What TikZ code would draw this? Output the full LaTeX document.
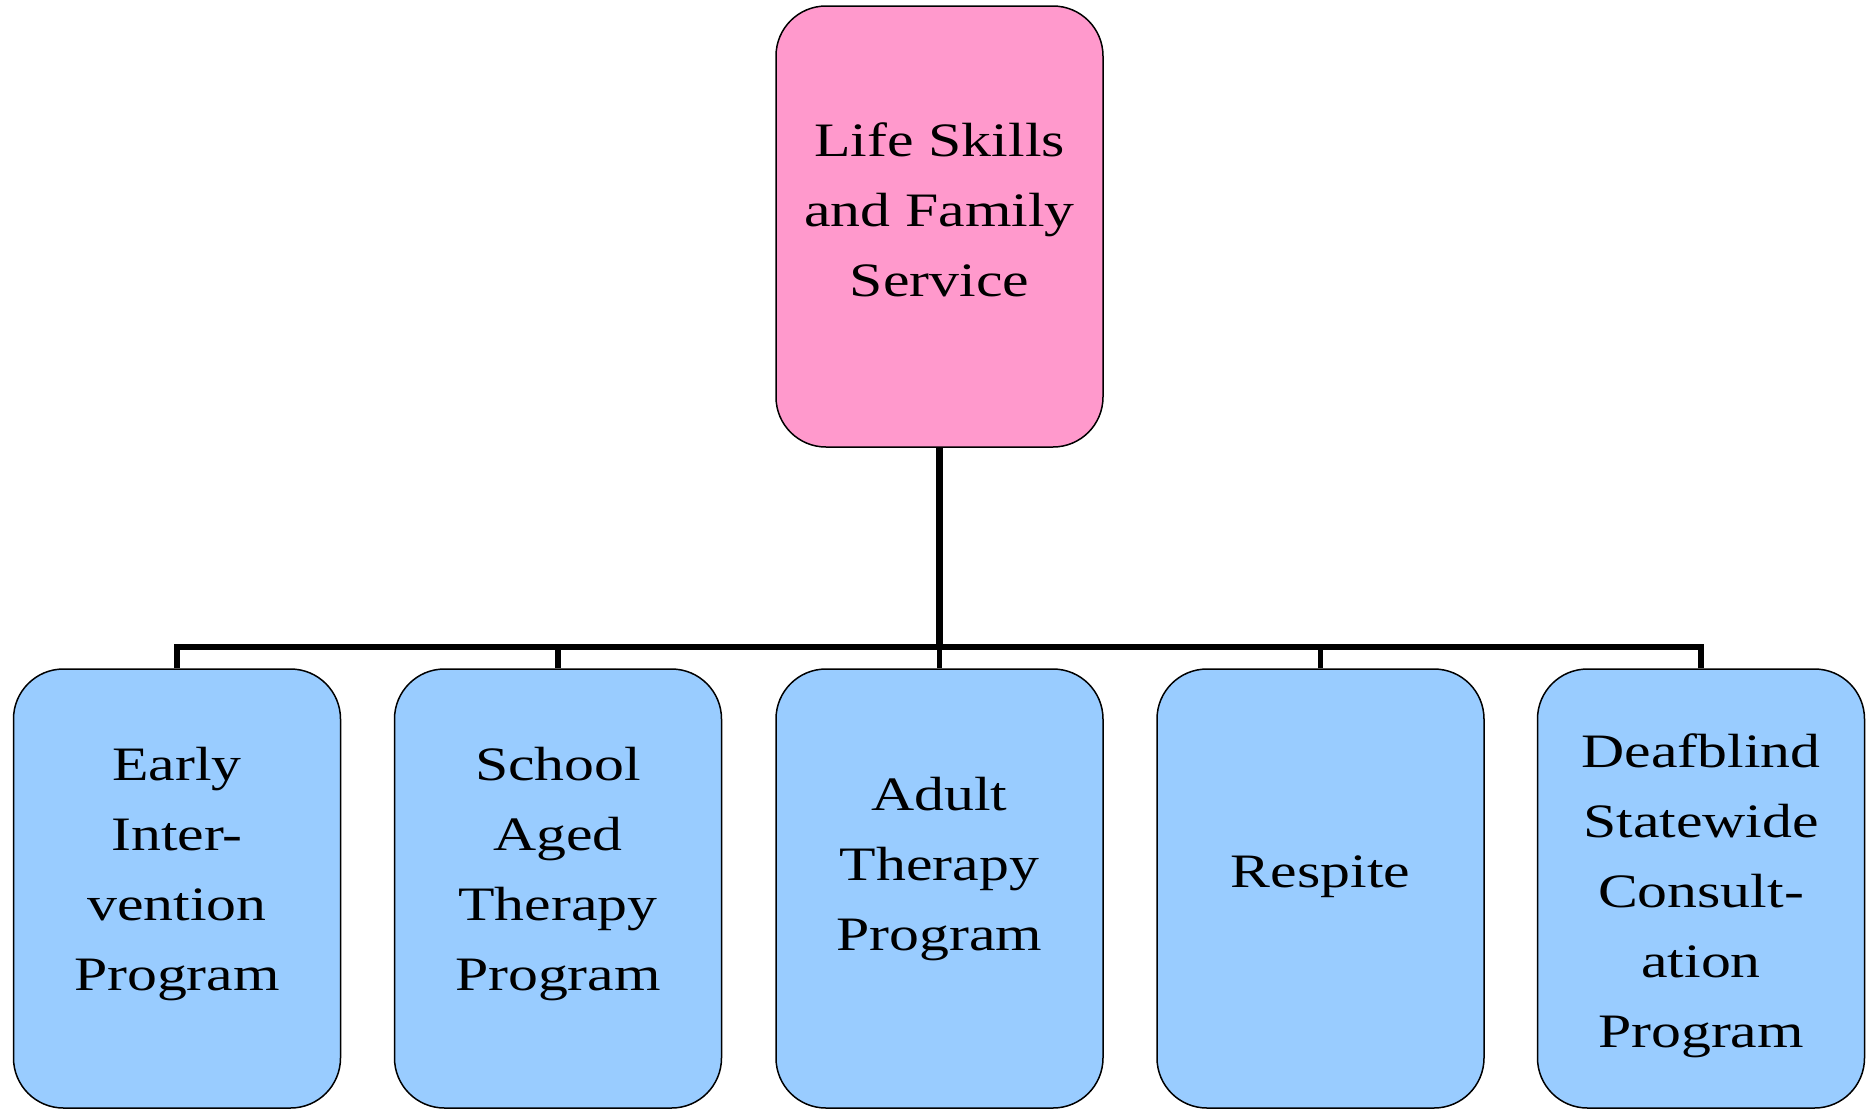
\documentclass[tikz,border=0pt]{standalone}
\usepackage{fontspec}
\setmainfont[FakeStretch=1.245]{Liberation Serif}
\definecolor{pinkfill}{HTML}{FF99CC}
\definecolor{bluefill}{HTML}{99CCFF}
\tikzset{
  boxbase/.style={draw=black, line width=0.75pt, rounded corners=25pt, minimum width=163.5pt, inner sep=0pt},
  topbox/.style={boxbase, fill=pinkfill, minimum height=220.5pt},
  childbox/.style={boxbase, fill=bluefill, minimum height=219.5pt},
  lbl/.style={align=center, inner sep=0pt, font=\fontsize{24}{35}\selectfont,
    execute at begin node=\strut, execute at end node=\strut},
  trunk/.style={line width=3.4pt},
  branch/.style={line width=2.9pt}
}
\begin{document}
\begin{tikzpicture}[x=0.5pt, y=-0.5pt]
\useasboundingbox (0,0) rectangle (1870,1110);
% boxes
\node[topbox] (top) at (939.5,226.5) {};
\node[childbox] (c1) at (177,888.5) {};
\node[childbox] (c2) at (558,888.5) {};
\node[childbox] (c3) at (939.5,888.5) {};
\node[childbox] (c4) at (1320.5,888.5) {};
\node[childbox] (c5) at (1701,888.5) {};
% labels
\node[lbl] (ttop) at (939.5,220.5) {Life Skills\\and Family\\Service};
\node[lbl] (t1) at (177,879.5) {Early\\Inter-\\vention\\Program};
\node[lbl] (t2) at (558,879.5) {School\\Aged\\Therapy\\Program};
\node[lbl] (t3) at (939.5,874) {Adult\\Therapy\\Program};
\node[lbl] (t4) at (1320.5,873) {Respite};
\node[lbl] (t5) at (1701,901.5) {Deafblind\\Statewide\\Consult-\\ation\\Program};
% connectors
\coordinate (bus) at (939.5,647);
\draw[trunk] (top.south) -- (bus);
\draw[branch] (c1.north) |- (bus);
\draw[branch] (c2.north) |- (bus);
\draw[branch] (c3.north) -- (bus);
\draw[branch] (c4.north) |- (bus);
\draw[branch] (c5.north) |- (bus);
\end{tikzpicture}
\end{document}
